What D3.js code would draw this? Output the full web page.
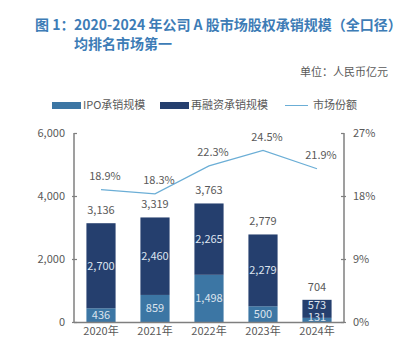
<!DOCTYPE html>
<html>
<head>
<meta charset="utf-8">
<script src="https://cdn.jsdelivr.net/npm/d3@7"></script>
<style>
  body { margin: 0; background: #fff; }
  text { font-family: "Noto Sans CJK SC", "Noto Sans", sans-serif; }
</style>
</head>
<body>
<div id="chart"></div>
<script>
// data
var years = ['2020年', '2021年', '2022年', '2023年', '2024年'];
var ipo = [436, 859, 1498, 500, 131];
var refi = [2700, 2460, 2265, 2279, 573];
var totals = [3136, 3319, 3763, 2779, 704];
var share = [18.9, 18.3, 22.3, 24.5, 21.9];
var leftTicks = [0, 2000, 4000, 6000];
var rightTicks = [0, 9, 18, 27];

var width = 406, height = 354;
var plot = {left: 74, right: 344, top: 133, bottom: 322};

var cIpo = '#3c76a4', cRefi = '#253f6e', cLine = '#6baed6', cText = '#595959';

var svg = d3.select('#chart').append('svg')
  .attr('width', width).attr('height', height);

// title
svg.append('text').attr('x', 35).attr('y', 30)
  .style('font-size', '14px').style('font-weight', 'bold').style('fill', '#3d7cb6')
  .text('图 1：');
svg.append('text').attr('x', 74).attr('y', 30)
  .style('font-size', '14px').style('font-weight', 'bold').style('fill', '#3d7cb6')
  .text('2020-2024 年公司 A 股市场股权承销规模（全口径）');
svg.append('text').attr('x', 74).attr('y', 49)
  .style('font-size', '14px').style('font-weight', 'bold').style('fill', '#3d7cb6')
  .text('均排名市场第一');
svg.append('text').attr('x', 388).attr('y', 76).attr('text-anchor', 'end')
  .style('font-size', '11px').style('fill', cText)
  .text('单位：人民币亿元');

// legend
var lg = svg.append('g').attr('transform', 'translate(0,105)');
lg.append('rect').attr('x', 52).attr('y', -3).attr('width', 29).attr('height', 7).style('fill', cIpo);
lg.append('text').attr('x', 83).attr('y', 4).style('font-size', '11px').style('fill', cText).text('IPO承销规模');
lg.append('rect').attr('x', 160).attr('y', -3).attr('width', 29).attr('height', 7).style('fill', cRefi);
lg.append('text').attr('x', 191).attr('y', 4).style('font-size', '11px').style('fill', cText).text('再融资承销规模');
lg.append('line').attr('x1', 285).attr('x2', 308).attr('y1', 0.5).attr('y2', 0.5).style('stroke', cLine).style('stroke-width', 1);
lg.append('text').attr('x', 313).attr('y', 4).style('font-size', '11px').style('fill', cText).text('市场份额');

// scales
var x = d3.scaleBand().domain(years).range([plot.left, plot.right]).paddingInner(0.46).paddingOuter(0.23);
var y = d3.scaleLinear().domain([0, 6000]).range([plot.bottom, plot.top]);
var y2 = d3.scaleLinear().domain([0, 27]).range([plot.bottom, plot.top]);

// axes
var yAxis = svg.append('g').attr('transform', 'translate(' + plot.left + ',0)')
  .call(d3.axisLeft(y).tickValues(leftTicks).tickSize(-3).tickPadding(9).tickFormat(d3.format(',')));
var y2Axis = svg.append('g').attr('transform', 'translate(' + plot.right + ',0)')
  .call(d3.axisRight(y2).tickValues(rightTicks).tickSize(-3).tickPadding(9).tickFormat(function(d) { return d + '%'; }));
[yAxis, y2Axis].forEach(function(a) {
  a.select('.domain').remove();
  a.selectAll('line').style('stroke', '#7f7f7f').style('stroke-width', 1.2);
  a.selectAll('text').style('font-size', '11px').style('fill', cText)
    .style('font-family', '"Noto Sans CJK SC", "Noto Sans", sans-serif');
});
yAxis.selectAll('.tick line').attr('x1', -2).attr('x2', 3);
y2Axis.selectAll('.tick line').attr('x1', -3).attr('x2', 2);
yAxis.selectAll('.tick').filter(function(d) { return d === 6000; }).select('line').attr('x1', 0);
y2Axis.selectAll('.tick').filter(function(d) { return d === 27; }).select('line').attr('x2', 0);
svg.append('line').attr('x1', plot.left).attr('x2', plot.left).attr('y1', plot.top).attr('y2', plot.bottom)
  .style('stroke', '#7f7f7f').style('stroke-width', 1.5);
svg.append('line').attr('x1', plot.right).attr('x2', plot.right).attr('y1', plot.top).attr('y2', plot.bottom)
  .style('stroke', '#7f7f7f').style('stroke-width', 1.5);

// bars
var bars = svg.append('g');
years.forEach(function(yr, i) {
  bars.append('rect').attr('x', x(yr)).attr('width', x.bandwidth())
    .attr('y', y(ipo[i])).attr('height', y(0) - y(ipo[i])).style('fill', cIpo);
  bars.append('rect').attr('x', x(yr)).attr('width', x.bandwidth())
    .attr('y', y(ipo[i] + refi[i])).attr('height', y(ipo[i]) - y(ipo[i] + refi[i])).style('fill', cRefi);
  var cx = x(yr) + x.bandwidth() / 2;
  // label centres, nudged apart when the segment is too thin
  var ipoMid = Math.min((y(0) + y(ipo[i])) / 2, y(0) - 5);
  var refiMid = Math.min((y(ipo[i]) + y(ipo[i] + refi[i])) / 2, ipoMid - 12);
  bars.append('text').attr('x', cx).attr('y', ipoMid + 4).attr('text-anchor', 'middle')
    .style('font-size', '11px').style('fill', '#dde4ee').text(d3.format(',')(ipo[i]));
  bars.append('text').attr('x', cx).attr('y', refiMid + 4).attr('text-anchor', 'middle')
    .style('font-size', '11px').style('fill', '#dde4ee').text(d3.format(',')(refi[i]));
  bars.append('text').attr('x', cx).attr('y', y(totals[i]) - 9).attr('text-anchor', 'middle')
    .style('font-size', '11px').style('fill', cText).text(d3.format(',')(totals[i]));
});

// bottom axis line
svg.append('line').attr('x1', plot.left).attr('x2', plot.right).attr('y1', plot.bottom + 0.5).attr('y2', plot.bottom + 0.5)
  .style('stroke', '#7f7f7f').style('stroke-width', 1.5);

// x labels
svg.append('g').selectAll('text').data(years).enter().append('text')
  .attr('x', function(d) { return x(d) + x.bandwidth() / 2; })
  .attr('y', 335).attr('text-anchor', 'middle')
  .style('font-size', '11px').style('fill', cText).text(function(d) { return d; });

// share line
var line = d3.line()
  .x(function(d, i) { return x(years[i]) + x.bandwidth() / 2; })
  .y(function(d) { return y2(d); });
svg.append('path').datum(share).attr('d', line)
  .style('fill', 'none').style('stroke', cLine).style('stroke-width', 1.2);
svg.append('g').selectAll('text').data(share).enter().append('text')
  .attr('x', function(d, i) { return x(years[i]) + x.bandwidth() / 2 + 4; })
  .attr('y', function(d) { return y2(d) - 10; })
  .attr('text-anchor', 'middle')
  .style('font-size', '11px').style('fill', cText)
  .text(function(d) { return d.toFixed(1) + '%'; });
</script>
</body>
</html>
